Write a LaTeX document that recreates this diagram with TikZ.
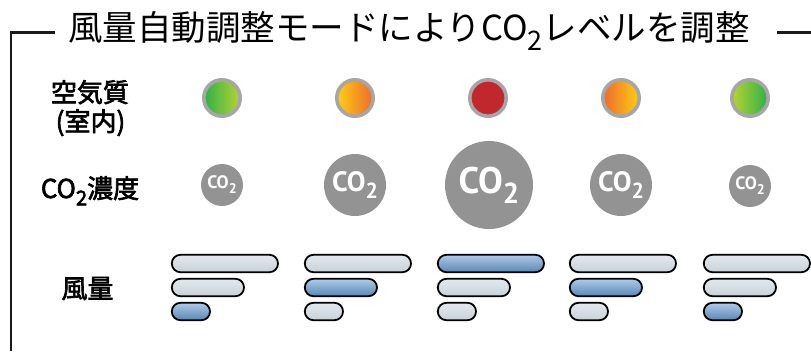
\documentclass[tikz,border=0pt]{standalone}
\usepackage{fontspec}
\usepackage{graphicx}
\newfontfamily\jpfont{Noto Sans CJK JP}
\newfontfamily\jplbl{Noto Sans CJK JP}[FakeBold=2.5]
\newfontfamily\cofont{PT Sans}
\newcommand\subtwo{\raisebox{-0.28em}{\scalebox{0.78}{2}}}
\definecolor{frameblack}{HTML}{1A1A1A}
\definecolor{ringgray}{HTML}{A6A6A6}
\definecolor{cogray}{HTML}{939393}
\definecolor{qgreen}{HTML}{2DB04A}
\definecolor{qlime}{HTML}{B8D332}
\definecolor{qyellow}{HTML}{FDCF14}
\definecolor{qorange}{HTML}{EE6A2C}
\definecolor{qred}{HTML}{C1272D}
\definecolor{barlighttop}{HTML}{E3E9EE}
\definecolor{barlightbot}{HTML}{C8D2D9}
\definecolor{barbluetop}{HTML}{AECBE9}
\definecolor{barbluebot}{HTML}{5A86B4}
\tikzset{
  framel/.style={draw=frameblack, line width=2.6pt},
  aq/.style={circle, draw=ringgray, line width=3.6pt, inner sep=0pt, minimum size=36.4pt},
  co/.style={circle, fill=cogray, inner sep=0pt, text=white, font=\cofont\bfseries},
  barbox/.style={rectangle, rounded corners=8.6pt, draw=black, line width=1.8pt,
    inner sep=0pt, minimum height=17.4pt, anchor=west},
  barlight/.style={barbox, top color=barlighttop, bottom color=barlightbot},
  barblue/.style={barbox, top color=barbluetop, bottom color=barbluebot},
  wtop/.style={minimum width=106.2pt},
  wmid/.style={minimum width=72.2pt},
  wbot/.style={minimum width=38.2pt},
  lbl/.style={font=\jplbl\fontsize{26}{30}\selectfont, anchor=base, inner sep=0pt},
  ttl/.style={font=\jpfont\fontsize{34.5}{40}\selectfont, anchor=base, inner sep=0pt}
}
\begin{document}
\begin{tikzpicture}[x=1pt,y=-1pt]
\useasboundingbox (0,0) rectangle (811,351);
% frame
\coordinate (fa) at (55,32.5);
\coordinate (fc) at (11,32.5);
\coordinate (fb) at (11,351);
\coordinate (fd) at (777,32.5);
\coordinate (fe) at (811,32.5);
\draw[framel] (fa) -- (fc) -- (fb);
\draw[framel] (fd) -- (fe);
\node[ttl] (title) at (409,40.5) {風量自動調整モードによりCO\subtwo レベルを調整};
% labels
\node[lbl] (l1) at (90,102) {空気質};
\node[lbl] (l2) at (90.5,131) {(室内)};
\node[lbl] (l3) at (90,198) {CO\subtwo 濃度};
\node[lbl] (l4) at (87.5,298) {風量};
% air quality
\node[aq, left color=qgreen, middle color=qgreen, right color=qlime] (q1) at (222,98) {};
\node[aq, left color=qyellow, middle color=qyellow!60!qorange, right color=qorange] (q2) at (355,98) {};
\node[aq, fill=qred] (q3) at (488,98) {};
\node[aq, left color=qorange, middle color=qyellow!70!qorange, right color=qyellow] (q4) at (621,98) {};
\node[aq, left color=qlime, middle color=qgreen, right color=qgreen] (q5) at (750,98) {};
% CO2
\node[co, minimum size=42pt, font=\cofont\bfseries\fontsize{18}{20}\selectfont] (c1) at (222,185) {CO\subtwo};
\node[co, minimum size=62pt, font=\cofont\bfseries\fontsize{28}{30}\selectfont] (c2) at (355,185) {CO\subtwo};
\node[co, minimum size=88pt, font=\cofont\bfseries\fontsize{37}{40}\selectfont] (c3) at (489,185) {CO\subtwo};
\node[co, minimum size=62pt, font=\cofont\bfseries\fontsize{28}{30}\selectfont] (c4) at (621,185) {CO\subtwo};
\node[co, minimum size=42pt, font=\cofont\bfseries\fontsize{18}{20}\selectfont] (c5) at (750,186) {CO\subtwo};
% air volume bars
\node[barlight, wtop] (b1t) at (170.9,263.5) {};
\node[barlight, wmid] (b1m) at (170.9,287.5) {};
\node[barblue,  wbot] (b1b) at (170.9,311.5) {};
\node[barlight, wtop] (b2t) at (303.9,263.5) {};
\node[barblue,  wmid] (b2m) at (303.9,287.5) {};
\node[barlight, wbot] (b2b) at (303.9,311.5) {};
\node[barblue,  wtop] (b3t) at (436.9,263.5) {};
\node[barlight, wmid] (b3m) at (436.9,287.5) {};
\node[barlight, wbot] (b3b) at (436.9,311.5) {};
\node[barlight, wtop] (b4t) at (568.9,263.5) {};
\node[barblue,  wmid] (b4m) at (568.9,287.5) {};
\node[barlight, wbot] (b4b) at (568.9,311.5) {};
\node[barlight, wtop] (b5t) at (702.9,263.5) {};
\node[barlight, wmid] (b5m) at (702.9,287.5) {};
\node[barblue,  wbot] (b5b) at (702.9,311.5) {};
\end{tikzpicture}
\end{document}
